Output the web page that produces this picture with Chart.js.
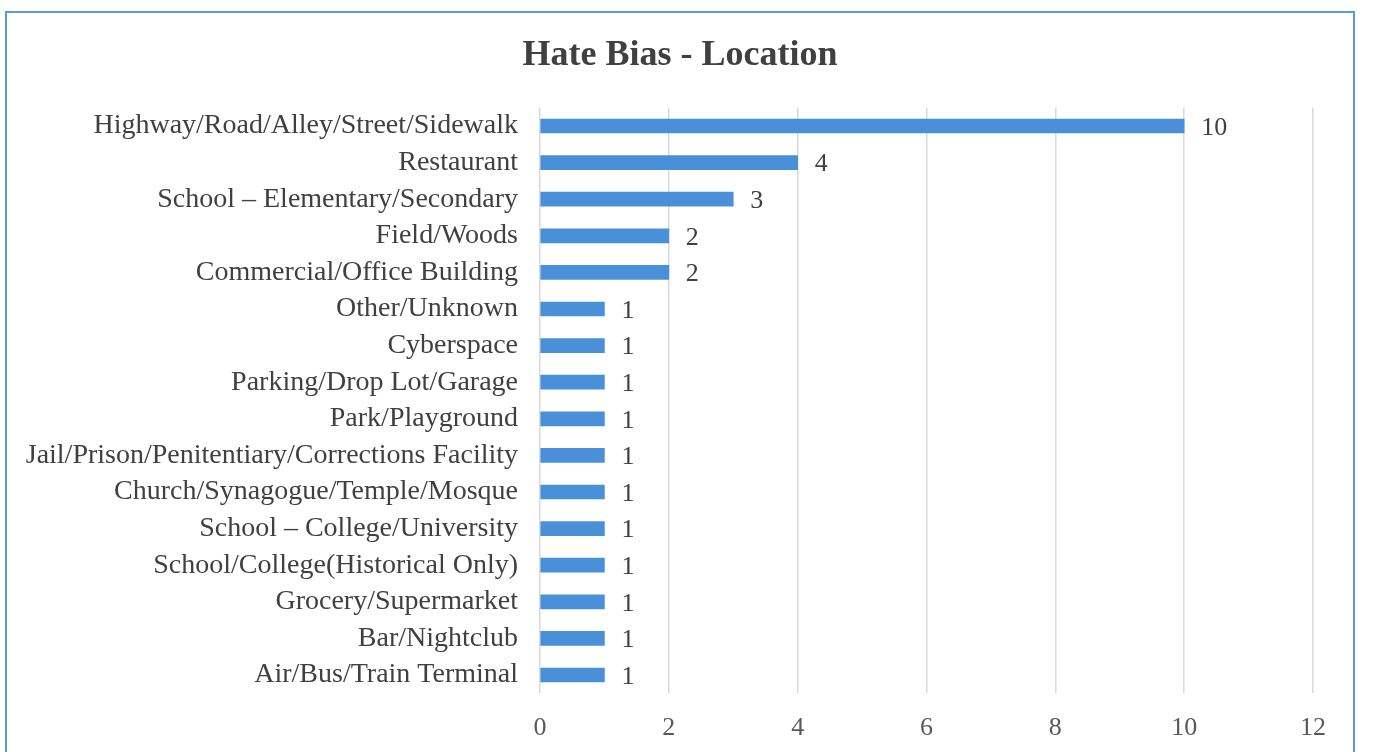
<!DOCTYPE html>
<html>
<head>
<meta charset="utf-8">
<script src="https://cdn.jsdelivr.net/npm/chart.js@4/dist/chart.umd.min.js"></script>
<style>
  html, body { margin: 0; padding: 0; background: #fff; overflow: hidden; }
  #frame {
    position: absolute; left: 5px; top: 11px; width: 1350px; height: 800px;
    border: 2px solid #5b9bd5; box-sizing: border-box;
  }
  #wrap { position: absolute; left: 0; top: 0; width: 1378px; height: 752px; }
</style>
</head>
<body>
<div id="frame"></div>
<div id="wrap"><canvas id="chart"></canvas></div>
<script>
const locations = [
  'Highway/Road/Alley/Street/Sidewalk',
  'Restaurant',
  'School \u2013 Elementary/Secondary',
  'Field/Woods',
  'Commercial/Office Building',
  'Other/Unknown',
  'Cyberspace',
  'Parking/Drop Lot/Garage',
  'Park/Playground',
  'Jail/Prison/Penitentiary/Corrections Facility',
  'Church/Synagogue/Temple/Mosque',
  'School \u2013 College/University',
  'School/College(Historical Only)',
  'Grocery/Supermarket',
  'Bar/Nightclub',
  'Air/Bus/Train Terminal'
]
const incidents = [10, 4, 3, 2, 2, 1, 1, 1, 1, 1, 1, 1, 1, 1, 1, 1]
const xTicks = [0, 2, 4, 6, 8, 10, 12]

// numbers at the end of each bar
const valueLabels = {
  id: 'valueLabels',
  afterLayout(chart) {
    // title sits a bit right of the canvas centre in the original
    chart.titleBlock.left = 47
  },
  afterDatasetsDraw(chart) {
    const ctx = chart.ctx
    const meta = chart.getDatasetMeta(0)
    ctx.save()
    ctx.font = '26px "Liberation Serif", serif'
    ctx.fillStyle = '#404040'
    ctx.textAlign = 'left'
    ctx.textBaseline = 'middle'
    meta.data.forEach((bar, i) => {
      ctx.fillText(String(incidents[i]), bar.x + 17, bar.y + 2)
    })
    ctx.restore()
  }
}

new Chart(document.getElementById('chart').getContext('2d'), {
  type: 'bar',
  data: {
    labels: locations,
    datasets: [{
      label: 'Incidents',
      data: incidents,
      backgroundColor: '#4a90d9',
      borderWidth: 0,
      barThickness: 14
    }]
  },
  options: {
    indexAxis: 'y',
    responsive: true,
    maintainAspectRatio: false,
    animation: false,
    layout: { padding: { left: 6, right: 65, top: 0, bottom: 0 } },
    plugins: {
      legend: { display: false },
      tooltip: { enabled: false },
      title: {
        display: true,
        text: 'Hate Bias - Location',
        color: '#404040',
        font: { family: '"Liberation Serif", serif', size: 36, weight: 'bold' },
        padding: { top: 34, bottom: 30.5 }
      }
    },
    scales: {
      x: {
        min: 0,
        max: 12,
        afterBuildTicks(scale) { scale.ticks = xTicks.map(v => ({ value: v })) },
        afterFit(scale) { scale.height = 58.7 },
        grid: { color: '#d9d9d9', lineWidth: 1.5, drawTicks: false },
        border: { display: false },
        ticks: {
          color: '#595959',
          padding: 19,
          font: { family: '"Liberation Serif", serif', size: 26 }
        }
      },
      y: {
        afterFit(scale) { scale.width = 534 },
        grid: { display: false },
        border: { display: false },
        ticks: {
          color: '#404040',
          padding: 14,
          font: { family: '"Liberation Serif", serif', size: 28 }
        }
      }
    }
  },
  plugins: [valueLabels]
})
</script>
</body>
</html>
